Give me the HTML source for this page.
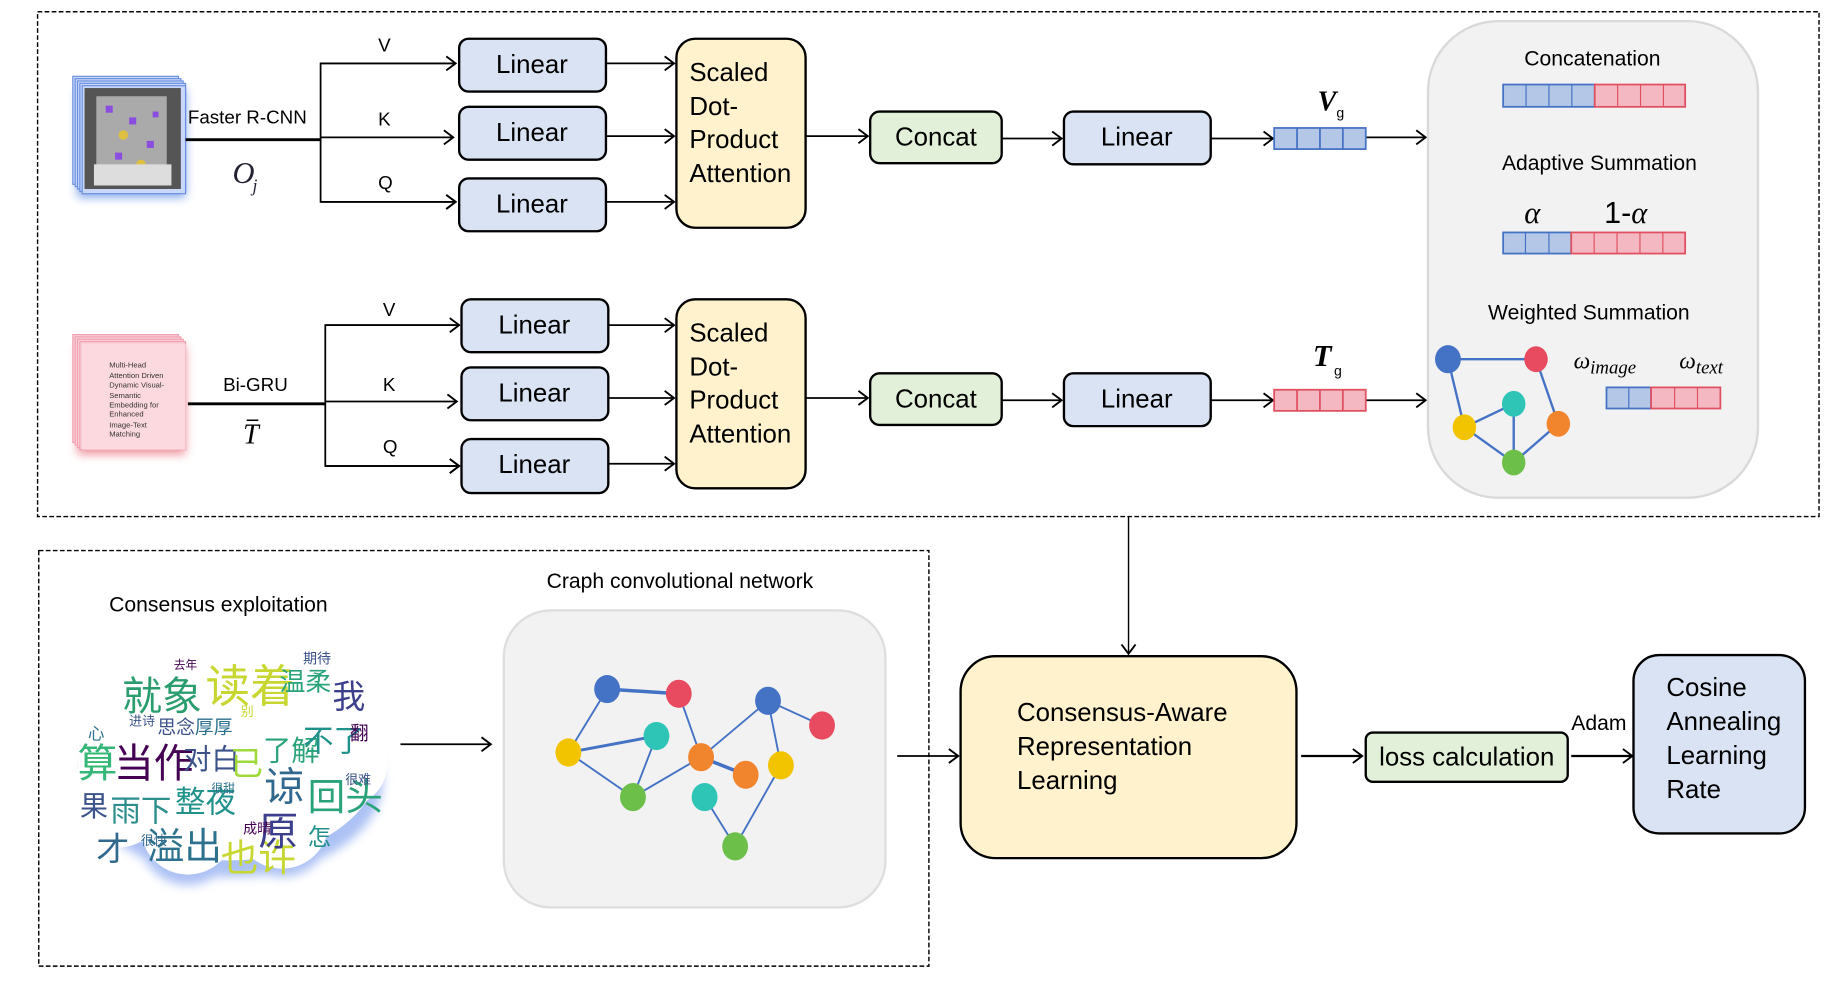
<!DOCTYPE html>
<html><head><meta charset="utf-8"><style>
html,body{margin:0;padding:0;background:#fff;}
svg{display:block;}
text{font-family:"Liberation Sans","Noto Sans CJK SC",sans-serif;}
.s{font-family:"Liberation Serif","DejaVu Serif",serif;font-style:italic;}
.cj{font-family:"Noto Sans CJK SC",sans-serif;}
</style></head><body>
<svg width="1839" height="999" viewBox="0 0 1566 851" preserveAspectRatio="none" xmlns="http://www.w3.org/2000/svg">
<defs>
<marker id="a" markerWidth="12" markerHeight="14" refX="10" refY="7" orient="auto" markerUnits="userSpaceOnUse">
<polyline points="2,1 10,7 2,13" fill="none" stroke="#000" stroke-width="1.6"/></marker>
<filter id="bl" x="-30%" y="-30%" width="160%" height="160%"><feGaussianBlur stdDeviation="4"/></filter>
</defs>
<rect x="0" y="0" width="1566" height="851" fill="#fff"/>
<rect x="32" y="10" width="1517" height="430" fill="none" stroke="#000" stroke-width="1.2" stroke-dasharray="4,2"/>
<rect x="33" y="469" width="758" height="354" fill="none" stroke="#000" stroke-width="1.2" stroke-dasharray="4,2"/>

<rect x="66" y="76" width="92" height="92" fill="#4a7de0" filter="url(#bl)" opacity="0.7"/>
<g stroke="#6a8fe0" stroke-width="1" fill="#c8d8f8">
<rect x="62" y="65" width="90" height="92"/><rect x="64" y="67" width="90" height="92"/><rect x="66" y="69" width="90" height="92"/><rect x="68" y="71" width="90" height="92"/><rect x="70" y="73" width="88" height="92"/></g>
<rect x="72" y="75" width="82" height="86" fill="#555"/>
<rect x="82" y="82" width="60" height="70" fill="#aaa"/>
<g fill="#8a4de0"><rect x="90" y="90" width="6" height="6"/><rect x="110" y="100" width="6" height="6"/><rect x="125" y="120" width="6" height="6"/><rect x="98" y="130" width="6" height="6"/><rect x="130" y="95" width="5" height="5"/></g>
<g fill="#e0c040"><circle cx="105" cy="115" r="4"/><circle cx="120" cy="140" r="4"/></g>
<rect x="80" y="140" width="66" height="18" fill="#ddd"/>

<rect x="66" y="295" width="92" height="92" fill="#e04a5a" filter="url(#bl)" opacity="0.6"/>
<g stroke="#f0a0b0" stroke-width="1" fill="#fad0d8">
<rect x="62" y="285" width="90" height="92"/><rect x="64" y="287" width="90" height="92"/><rect x="66" y="289" width="90" height="92"/><rect x="68" y="291" width="90" height="92"/></g>
<rect x="70" y="293" width="88" height="90" fill="#fcd9df"/>
<g font-size="6.5" fill="#333"><text x="93" y="313">Multi-Head</text><text x="93" y="322">Attention Driven</text><text x="93" y="330">Dynamic Visual-</text><text x="93" y="339">Semantic</text><text x="93" y="347">Embedding for</text><text x="93" y="355">Enhanced</text><text x="93" y="364">Image-Text</text><text x="93" y="372">Matching</text></g>

<g stroke="#000" fill="none" stroke-width="1.5">
<line x1="158" y1="119" x2="273" y2="119" stroke-width="2.5"/>
<polyline points="388,54 273,54 273,172 388,172" marker-end="url(#a)"/>
<line x1="273" y1="117" x2="386" y2="117" marker-end="url(#a)"/>
<line x1="160" y1="344" x2="277" y2="344" stroke-width="2.5"/>
<polyline points="391,277 277,277 277,397 391,397" marker-end="url(#a)"/>
<line x1="277" y1="342" x2="389" y2="342" marker-end="url(#a)"/>
<line x1="277" y1="277" x2="391" y2="277" marker-end="url(#a)"/>
<line x1="273" y1="54" x2="388" y2="54" marker-end="url(#a)"/>
<line x1="273" y1="172" x2="388" y2="172" marker-end="url(#a)"/>
<line x1="277" y1="397" x2="391" y2="397" marker-end="url(#a)"/>
<line x1="516" y1="54" x2="574" y2="54" marker-end="url(#a)"/>
<line x1="516" y1="116" x2="574" y2="116" marker-end="url(#a)"/>
<line x1="516" y1="172" x2="574" y2="172" marker-end="url(#a)"/>
<line x1="518" y1="277" x2="574" y2="277" marker-end="url(#a)"/>
<line x1="518" y1="339" x2="574" y2="339" marker-end="url(#a)"/>
<line x1="518" y1="395" x2="574" y2="395" marker-end="url(#a)"/>
<line x1="686" y1="116" x2="739" y2="116" marker-end="url(#a)"/>
<line x1="853" y1="118" x2="904" y2="118" marker-end="url(#a)"/>
<line x1="1031" y1="118" x2="1084" y2="118" marker-end="url(#a)"/>
<line x1="1163" y1="117" x2="1214" y2="117" marker-end="url(#a)"/>
<line x1="686" y1="339" x2="739" y2="339" marker-end="url(#a)"/>
<line x1="853" y1="341" x2="904" y2="341" marker-end="url(#a)"/>
<line x1="1031" y1="341" x2="1084" y2="341" marker-end="url(#a)"/>
<line x1="1163" y1="341" x2="1214" y2="341" marker-end="url(#a)"/>
<line x1="1340" y1="340" x2="1364" y2="340" marker-end="url(#a)"/>
<line x1="961" y1="440" x2="961" y2="557" stroke-width="1.2" marker-end="url(#a)"/>
<line x1="341" y1="634" x2="418" y2="634" marker-end="url(#a)"/>
<line x1="764" y1="644" x2="816" y2="644" marker-end="url(#a)"/>
<line x1="1108" y1="644" x2="1160" y2="644" stroke-width="2" marker-end="url(#a)"/>
<line x1="1338" y1="644" x2="1390" y2="644" stroke-width="2" marker-end="url(#a)"/>
</g>
<g font-size="16" fill="#000">
<text x="160" y="105">Faster R-CNN</text><text x="190" y="333">Bi-GRU</text>
<text x="322" y="44">V</text><text x="322" y="107">K</text><text x="322" y="161">Q</text>
<text x="326" y="269">V</text><text x="326" y="333">K</text><text x="326" y="386">Q</text>
</g>
<text class="s" x="198" y="156" font-size="26" fill="#223">O</text><text class="s" x="215" y="163" font-size="15" fill="#223">j</text>
<text class="s" x="207" y="378" font-size="24" fill="#000">T</text><line x1="210" y1="358" x2="220" y2="358" stroke="#000" stroke-width="1.3"/>

<g stroke="#000" stroke-width="2">
<rect x="391" y="33" width="125" height="45" rx="8" fill="#dae3f3"/>
<rect x="391" y="91" width="125" height="45" rx="8" fill="#dae3f3"/>
<rect x="391" y="152" width="125" height="45" rx="8" fill="#dae3f3"/>
<rect x="393" y="255" width="125" height="45" rx="8" fill="#dae3f3"/>
<rect x="393" y="313" width="125" height="45" rx="8" fill="#dae3f3"/>
<rect x="393" y="374" width="125" height="46" rx="8" fill="#dae3f3"/>
<rect x="576" y="33" width="110" height="161" rx="16" fill="#fff2cc"/>
<rect x="576" y="255" width="110" height="161" rx="16" fill="#fff2cc"/>
<rect x="741" y="95" width="112" height="44" rx="8" fill="#e2f0d9"/>
<rect x="741" y="318" width="112" height="44" rx="8" fill="#e2f0d9"/>
<rect x="906" y="95" width="125" height="45" rx="8" fill="#dae3f3"/>
<rect x="906" y="318" width="125" height="45" rx="8" fill="#dae3f3"/>
<rect x="818" y="559" width="286" height="172" rx="30" fill="#fff2cc"/>
<rect x="1163" y="624" width="172" height="42" rx="6" fill="#e2f0d9"/>
<rect x="1391" y="558" width="146" height="152" rx="22" fill="#dae3f3"/>
</g>
<g font-size="22" fill="#000" text-anchor="middle">
<text x="453" y="62">Linear</text><text x="453" y="120">Linear</text><text x="453" y="181">Linear</text>
<text x="455" y="284">Linear</text><text x="455" y="342">Linear</text><text x="455" y="403">Linear</text>
<text x="797" y="124">Concat</text><text x="797" y="347">Concat</text>
<text x="968" y="124">Linear</text><text x="968" y="347">Linear</text>
<text x="1249" y="652">loss calculation</text>
</g>
<g font-size="22" fill="#000">
<text x="587" y="69">Scaled</text><text x="587" y="98">Dot-</text><text x="587" y="126">Product</text><text x="587" y="155">Attention</text>
<text x="587" y="291">Scaled</text><text x="587" y="320">Dot-</text><text x="587" y="348">Product</text><text x="587" y="377">Attention</text>
<text x="866" y="614">Consensus-Aware</text><text x="866" y="643">Representation</text><text x="866" y="672">Learning</text>
<text x="1419" y="593">Cosine</text><text x="1419" y="622">Annealing</text><text x="1419" y="651">Learning</text><text x="1419" y="680">Rate</text>
</g>
<text x="1338" y="622" font-size="18">Adam</text>

<g stroke="#4472c4" stroke-width="1.5" fill="#b4c7e7">
<rect x="1085" y="109" width="78" height="18"/>
<line x1="1104.5" y1="109" x2="1104.5" y2="127"/><line x1="1124" y1="109" x2="1124" y2="127"/><line x1="1143.5" y1="109" x2="1143.5" y2="127"/>
</g>
<g stroke="#e05060" stroke-width="1.5" fill="#f4b8c2">
<rect x="1085" y="332" width="78" height="18"/>
<line x1="1104.5" y1="332" x2="1104.5" y2="350"/><line x1="1124" y1="332" x2="1124" y2="350"/><line x1="1143.5" y1="332" x2="1143.5" y2="350"/>
</g>
<text x="1122" y="94" class="s" font-size="24" font-weight="bold">V</text><text x="1138" y="100" font-size="12" font-family="Liberation Serif,serif">g</text>
<text x="1118" y="312" class="s" font-size="26" font-weight="bold">T</text><text x="1136" y="320" font-size="12" font-family="Liberation Serif,serif">g</text>

<rect x="1216" y="18" width="281" height="406" rx="60" fill="#f2f2f2" stroke="#d9d9d9" stroke-width="2"/>
<g font-size="18" text-anchor="middle" fill="#000">
<text x="1356" y="56">Concatenation</text><text x="1362" y="145">Adaptive Summation</text><text x="1353" y="272">Weighted Summation</text>
</g>
<g stroke-width="1.5">
<rect x="1280" y="72" width="78" height="19" fill="#b4c7e7" stroke="#4472c4"/><rect x="1358" y="72" width="77" height="19" fill="#f4b8c2" stroke="#e05060"/>
<rect x="1280" y="198" width="58" height="18" fill="#b4c7e7" stroke="#4472c4"/><rect x="1338" y="198" width="97" height="18" fill="#f4b8c2" stroke="#e05060"/>
<rect x="1368" y="330" width="38" height="18" fill="#b4c7e7" stroke="#4472c4"/><rect x="1406" y="330" width="59" height="18" fill="#f4b8c2" stroke="#e05060"/>
</g>
<g stroke="#4472c4" stroke-width="1"><line x1="1299.5" y1="72" x2="1299.5" y2="91"/><line x1="1319" y1="72" x2="1319" y2="91"/><line x1="1338.5" y1="72" x2="1338.5" y2="91"/>
<line x1="1299" y1="198" x2="1299" y2="216"/><line x1="1319" y1="198" x2="1319" y2="216"/><line x1="1387" y1="330" x2="1387" y2="348"/></g>
<g stroke="#e05060" stroke-width="1"><line x1="1377.5" y1="72" x2="1377.5" y2="91"/><line x1="1397" y1="72" x2="1397" y2="91"/><line x1="1416.5" y1="72" x2="1416.5" y2="91"/>
<line x1="1357.5" y1="198" x2="1357.5" y2="216"/><line x1="1377" y1="198" x2="1377" y2="216"/><line x1="1396.5" y1="198" x2="1396.5" y2="216"/><line x1="1416" y1="198" x2="1416" y2="216"/>
<line x1="1426" y1="330" x2="1426" y2="348"/><line x1="1445.5" y1="330" x2="1445.5" y2="348"/></g>
<text class="s" x="1298" y="190" font-size="26">α</text><text x="1366" y="190" font-size="26" font-family="Liberation Serif,serif">1-<tspan class="s">α</tspan></text>
<text class="s" x="1340" y="314" font-size="20">ω<tspan font-size="16" dy="4">image</tspan></text>
<text class="s" x="1430" y="314" font-size="20">ω<tspan font-size="16" dy="4">text</tspan></text>
<g stroke="#4472c4" stroke-width="2">
<line x1="1233" y1="306" x2="1308" y2="306"/><line x1="1233" y1="306" x2="1247" y2="364"/><line x1="1308" y1="306" x2="1327" y2="361"/>
<line x1="1247" y1="364" x2="1289" y2="344"/><line x1="1289" y1="344" x2="1289" y2="394"/><line x1="1247" y1="364" x2="1289" y2="394"/><line x1="1289" y1="394" x2="1327" y2="361"/>
</g>
<ellipse cx="1233" cy="306" rx="11" ry="12" fill="#4472c4"/><ellipse cx="1308" cy="306" rx="10" ry="11" fill="#e84a5f"/>
<ellipse cx="1289" cy="344" rx="10" ry="11" fill="#2ec4b6"/><ellipse cx="1247" cy="364" rx="10" ry="11" fill="#f2c400"/>
<ellipse cx="1327" cy="361" rx="10" ry="11" fill="#f0852d"/><ellipse cx="1289" cy="394" rx="10" ry="11" fill="#6cc04a"/>

<text x="186" y="521" font-size="18" text-anchor="middle">Consensus exploitation</text>
<text x="579" y="501" font-size="18" text-anchor="middle">Craph convolutional network</text>
<g>
<g fill="#8aa8f0" filter="url(#bl)" opacity="0.7"><ellipse cx="198" cy="665" rx="128" ry="82"/><circle cx="160" cy="712" r="42"/><circle cx="240" cy="705" r="42"/></g>
<g fill="#fff">
<ellipse cx="195" cy="648" rx="128" ry="85"/><circle cx="110" cy="605" r="45"/><circle cx="185" cy="590" r="45"/><circle cx="262" cy="600" r="48"/>
<circle cx="292" cy="650" r="38"/><circle cx="100" cy="680" r="42"/><circle cx="160" cy="705" r="40"/><circle cx="240" cy="700" r="40"/>
</g>
<g class="cj">
<text x="104" y="605" font-size="34" fill="#2a9d6f">就象</text>
<text x="175" y="598" font-size="38" fill="#c7d630">读着</text>
<text x="238" y="588" font-size="22" fill="#2aa37a">温柔</text>
<text x="283" y="603" font-size="28" fill="#3b3f8c">我</text>
<text x="134" y="625" font-size="16" fill="#3b528b">思念</text><text x="166" y="625" font-size="16" fill="#2c728e">厚厚</text>
<text x="66" y="662" font-size="34" fill="#35b779">算</text>
<text x="97" y="662" font-size="34" fill="#440154">当作</text>
<text x="156" y="655" font-size="24" fill="#3b528b">对白</text>
<text x="196" y="660" font-size="28" fill="#a0da39">已</text>
<text x="224" y="648" font-size="24" fill="#2aa37a">了解</text>
<text x="225" y="682" font-size="34" fill="#31688e">谅</text>
<text x="258" y="640" font-size="26" fill="#21918c">不了</text>
<text x="262" y="690" font-size="32" fill="#2aa37a">回头</text>
<text x="68" y="695" font-size="24" fill="#3b528b">果</text>
<text x="94" y="700" font-size="26" fill="#2c8e8c">雨下</text>
<text x="149" y="692" font-size="26" fill="#21918c">整夜</text>
<text x="82" y="733" font-size="28" fill="#31688e">才</text>
<text x="125" y="732" font-size="32" fill="#2c728e">溢出</text>
<text x="188" y="742" font-size="32" fill="#c7d630">也许</text>
<text x="220" y="720" font-size="34" fill="#3b3f8c">原</text>
<text x="262" y="720" font-size="20" fill="#21918c">怎</text>
<text x="148" y="570" font-size="10" fill="#440154">去年</text><text x="258" y="565" font-size="12" fill="#3b528b">期待</text>
<text x="110" y="618" font-size="11" fill="#3b528b">进诗</text><text x="205" y="610" font-size="11" fill="#c7d630">别</text>
<text x="298" y="630" font-size="16" fill="#440154">翻</text><text x="180" y="675" font-size="10" fill="#2c728e">很甜</text>
<text x="294" y="668" font-size="11" fill="#3b528b">很难</text><text x="120" y="720" font-size="11" fill="#31688e">很快</text>
<text x="75" y="630" font-size="14" fill="#2c728e">心</text><text x="207" y="710" font-size="12" fill="#440154">成晴</text>
</g>
</g>
<rect x="429" y="520" width="325" height="253" rx="40" fill="#f2f2f2" stroke="#dedede" stroke-width="2"/>
<g stroke="#4472c4" stroke-width="1.6">
<line x1="517" y1="587" x2="578" y2="591" stroke-width="3"/><line x1="517" y1="587" x2="484" y2="641"/><line x1="484" y1="641" x2="559" y2="627" stroke-width="2.5"/>
<line x1="484" y1="641" x2="539" y2="679"/><line x1="559" y1="627" x2="539" y2="679"/><line x1="578" y1="591" x2="597" y2="645"/>
<line x1="539" y1="679" x2="597" y2="645"/><line x1="597" y1="645" x2="654" y2="597"/><line x1="654" y1="597" x2="700" y2="618"/>
<line x1="654" y1="597" x2="665" y2="652"/><line x1="597" y1="645" x2="635" y2="660" stroke-width="3"/><line x1="600" y1="679" x2="626" y2="721"/>
<line x1="665" y1="652" x2="626" y2="721"/>
</g>
<ellipse cx="517" cy="587" rx="11" ry="12" fill="#4472c4"/><ellipse cx="578" cy="591" rx="11" ry="12" fill="#e84a5f"/>
<ellipse cx="654" cy="597" rx="11" ry="12" fill="#4472c4"/><ellipse cx="700" cy="618" rx="11" ry="12" fill="#e84a5f"/>
<ellipse cx="559" cy="627" rx="11" ry="12" fill="#2ec4b6"/><ellipse cx="484" cy="641" rx="11" ry="12" fill="#f2c400"/>
<ellipse cx="597" cy="645" rx="11" ry="12" fill="#f0852d"/><ellipse cx="635" cy="660" rx="11" ry="12" fill="#f0852d"/>
<ellipse cx="665" cy="652" rx="11" ry="12" fill="#f2c400"/><ellipse cx="539" cy="679" rx="11" ry="12" fill="#6cc04a"/>
<ellipse cx="600" cy="679" rx="11" ry="12" fill="#2ec4b6"/><ellipse cx="626" cy="721" rx="11" ry="12" fill="#6cc04a"/>
</svg>
</body></html>
